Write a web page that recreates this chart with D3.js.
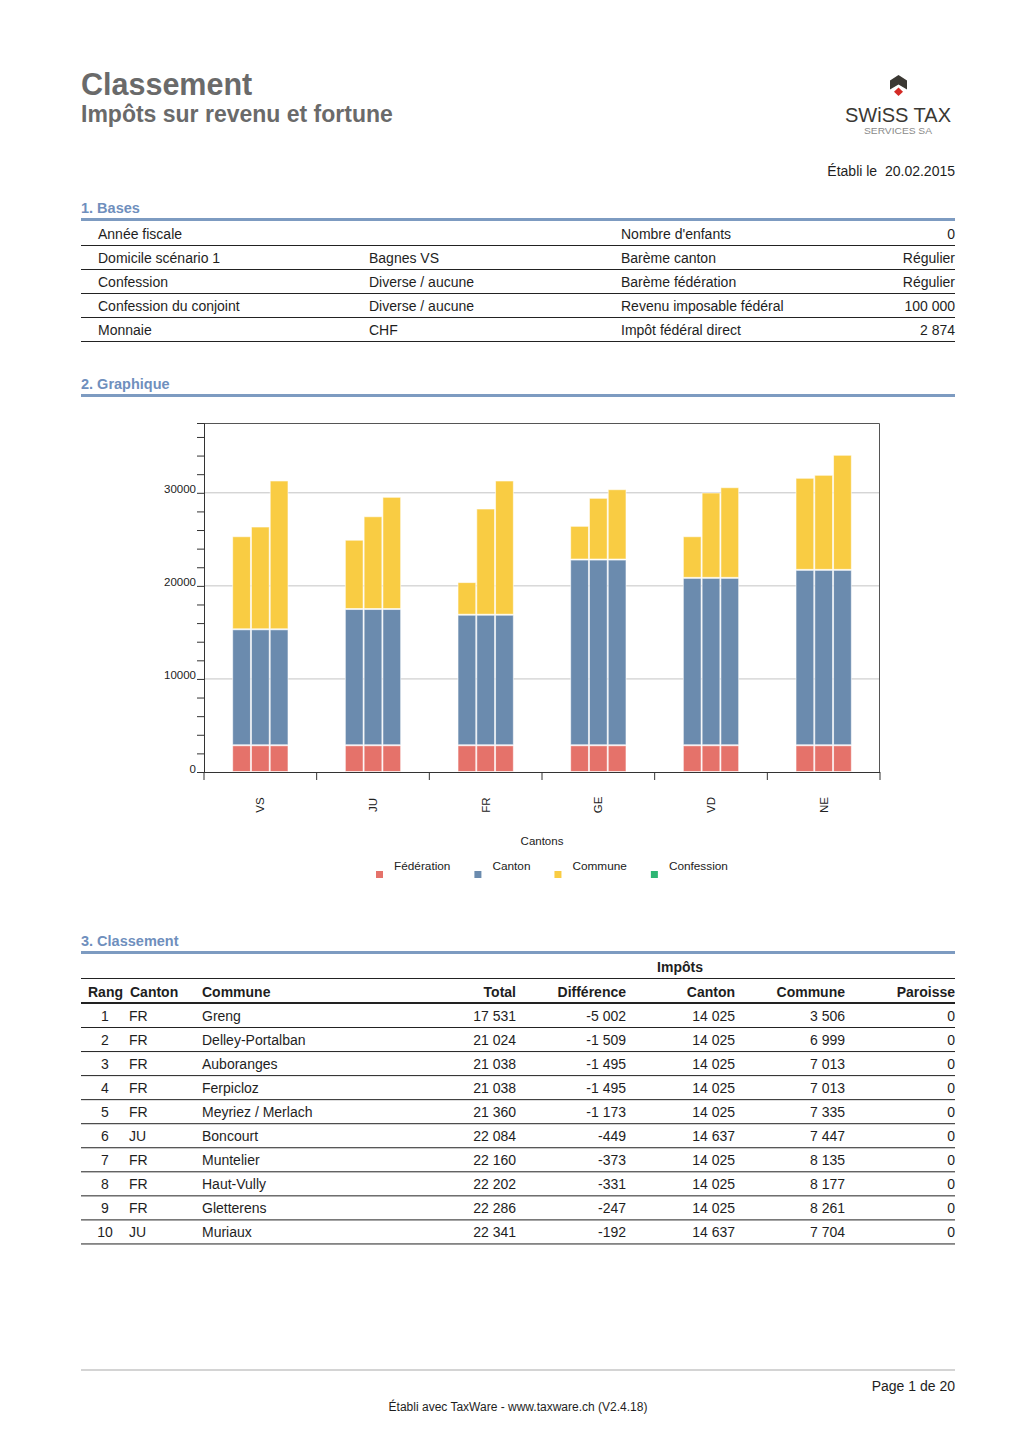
<!DOCTYPE html>
<html><head><meta charset="utf-8">
<script src="https://cdn.jsdelivr.net/npm/d3@7"></script>
<style>
html,body{margin:0;padding:0;background:#fff;}
svg text{font-family:"Liberation Sans",Arial,sans-serif;}
</style></head>
<body>
<svg id="page" width="1020" height="1442"></svg>
<script>
// ---------- DATA ----------
const cantons = ["VS","JU","FR","GE","VD","NE"];
const federationTax = [2874,2874,2874,2874,2874,2874];
const cantonTax = [12460,14637,14025,19954,17986,18846];
const communeLow  = [10000,7447,3506,3624,4473,9893];
const communeMid  = [11043,9970,11413,6634,9172,10215];
const communeHigh = [15990,12060,14424,7559,9742,12366];
const confessionTax = [0,0,0,0,0,0];
const seriesNames = ["Fédération","Canton","Commune","Confession"];
const seriesColors = ["#e5726a","#6b8bae","#f9cc43","#2db674"];
const yTicksMajor = [0,10000,20000,30000];

const basesLeft = [["Année fiscale",""],["Domicile scénario 1","Bagnes VS"],["Confession","Diverse / aucune"],["Confession du conjoint","Diverse / aucune"],["Monnaie","CHF"]];
const basesRight = [["Nombre d'enfants","0"],["Barème canton","Régulier"],["Barème fédération","Régulier"],["Revenu imposable fédéral","100 000"],["Impôt fédéral direct","2 874"]];

const rankHeaders = ["Rang","Canton","Commune","Total","Différence","Canton","Commune","Paroisse"];
const rankRows = [
 [1,"FR","Greng","17 531","-5 002","14 025","3 506","0"],
 [2,"FR","Delley-Portalban","21 024","-1 509","14 025","6 999","0"],
 [3,"FR","Auboranges","21 038","-1 495","14 025","7 013","0"],
 [4,"FR","Ferpicloz","21 038","-1 495","14 025","7 013","0"],
 [5,"FR","Meyriez / Merlach","21 360","-1 173","14 025","7 335","0"],
 [6,"JU","Boncourt","22 084","-449","14 637","7 447","0"],
 [7,"FR","Muntelier","22 160","-373","14 025","8 135","0"],
 [8,"FR","Haut-Vully","22 202","-331","14 025","8 177","0"],
 [9,"FR","Gletterens","22 286","-247","14 025","8 261","0"],
 [10,"JU","Muriaux","22 341","-192","14 637","7 704","0"]
];

// ---------- PAGE ----------
const svg = d3.select("#page");
const L = 81, R = 955;
const FS = 14;
const txtCol = "#1e1e1e", secCol = "#6f8fbd", ruleCol = "#7d9bc1";

svg.append("text").attr("x",L).attr("y",95).attr("font-size",30.5).attr("font-weight","bold").attr("fill","#6a6a6a").text("Classement");
svg.append("text").attr("x",L).attr("y",122).attr("font-size",23).attr("font-weight","bold").attr("fill","#6a6a6a").text("Impôts sur revenu et fortune");

// logo
const logo = svg.append("g");
logo.append("path").attr("d","M898.5,75 L907,80.5 L907,89.5 L898.5,84.5 L890,89.5 L890,80.5 Z").attr("fill","#3b3833");
logo.append("path").attr("d","M898.5,87.5 L903,91.8 L898.5,96 L894,91.8 Z").attr("fill","#d42a25");
logo.append("text").attr("x",845).attr("y",122).attr("font-family","Lato, 'Open Sans', sans-serif").attr("font-size",21).attr("fill","#3a3833").attr("textLength",106).attr("lengthAdjust","spacingAndGlyphs").text("SWiSS TAX");
logo.append("text").attr("x",864).attr("y",133.5).attr("font-family","Lato, 'Open Sans', sans-serif").attr("font-size",9.5).attr("fill","#8a8a8a").attr("textLength",68).attr("lengthAdjust","spacingAndGlyphs").text("SERVICES SA");

svg.append("text").attr("x",R).attr("y",175.5).attr("text-anchor","end").attr("font-size",FS).attr("fill",txtCol).attr("xml:space","preserve").text("Établi le  20.02.2015");

function section(title, y){
  svg.append("text").attr("x",L).attr("y",y).attr("font-size",14.5).attr("font-weight","bold").attr("fill",secCol).text(title);
  svg.append("rect").attr("x",L).attr("y",y+5.5).attr("width",R-L).attr("height",3).attr("fill",ruleCol);
}
section("1. Bases",212.5);
section("2. Graphique",388.5);
section("3. Classement",945.5);

// Bases table
basesLeft.forEach((r,i)=>{
  const y = 238.5 + i*24;
  svg.append("text").attr("x",98).attr("y",y).attr("font-size",FS).attr("fill",txtCol).text(r[0]);
  svg.append("text").attr("x",369).attr("y",y).attr("font-size",FS).attr("fill",txtCol).text(r[1]);
  svg.append("text").attr("x",621).attr("y",y).attr("font-size",FS).attr("fill",txtCol).text(basesRight[i][0]);
  svg.append("text").attr("x",R).attr("y",y).attr("text-anchor","end").attr("font-size",FS).attr("fill",txtCol).text(basesRight[i][1]);
  svg.append("rect").attr("x",L).attr("y",245+i*24).attr("width",R-L).attr("height",1).attr("fill","#222");
});

// ---------- CHART ----------
const chartL = 204, chartR = 880, chartT = 423, chartB = 772;
const chartFont = "'Open Sans', 'DejaVu Sans', sans-serif";
const y = d3.scaleLinear().domain([0,37500]).range([chartB,chartT]);
const x = d3.scaleBand().domain(cantons).range([chartL,chartR]).paddingInner(0.5).paddingOuter(0.25);
const xi = d3.scaleBand().domain([0,1,2]).range([0,x.bandwidth()]);
const ch = svg.append("g");

// gridlines
ch.selectAll("line.grid").data(yTicksMajor.slice(1)).join("line")
  .attr("x1",chartL).attr("x2",chartR).attr("y1",d=>y(d)).attr("y2",d=>y(d))
  .attr("stroke","#c4c4c4").attr("stroke-width",1);

// bars
const barData = [];
cantons.forEach((c,ci)=>{
  const communes = [communeLow[ci],communeMid[ci],communeHigh[ci]];
  communes.forEach((cm,bi)=>{
    const vals = [federationTax[ci], cantonTax[ci], cm, confessionTax[ci]];
    let base = 0;
    vals.forEach((v,si)=>{
      if(v>0) barData.push({c, bi, si, y0:base, y1:base+v});
      base += v;
    });
  });
});
ch.selectAll("rect.bar").data(barData).join("rect")
  .attr("x",d=>x(d.c)+xi(d.bi)+0.5)
  .attr("width",xi.bandwidth()-1)
  .attr("y",d=>y(d.y1)+0.5)
  .attr("height",d=>y(d.y0)-y(d.y1)-1)
  .attr("fill",d=>seriesColors[d.si])
  .attr("stroke","#ffffff").attr("stroke-opacity",0.6).attr("stroke-width",1);

// frame
ch.append("path").attr("d",`M${chartL},${chartT}.5 H${chartR-0.5} V${chartB}`).attr("fill","none").attr("stroke","#555").attr("stroke-width",1);

// y axis
const yAxis = d3.axisLeft(y).tickValues(d3.range(0,37000,2000)).tickSize(7)
  .tickFormat(d=> yTicksMajor.includes(d) ? String(d) : "");
const ya = ch.append("g").attr("transform",`translate(${chartL},0)`).call(yAxis);
ya.select(".domain").attr("stroke","#333");
ya.selectAll(".tick line").attr("stroke","#333");
ya.selectAll(".tick text").attr("x",-8).attr("dy","0").attr("font-family",chartFont).attr("font-size",11.5).attr("fill","#222");

// x axis
ch.append("line").attr("x1",chartL).attr("x2",chartR).attr("y1",chartB+0.5).attr("y2",chartB+0.5).attr("stroke","#333");
ch.selectAll("line.xt").data(d3.range(cantons.length+1)).join("line")
  .attr("x1",i=>chartL+i*x.step()).attr("x2",i=>chartL+i*x.step())
  .attr("y1",chartB).attr("y2",chartB+8).attr("stroke","#333");
ch.selectAll("text.xl").data(cantons).join("text")
  .attr("transform",d=>`translate(${x(d)+x.bandwidth()/2+4},805) rotate(-90)`)
  .attr("text-anchor","middle").attr("font-family",chartFont).attr("font-size",11.5).attr("fill","#222").text(d=>d);
ch.append("text").attr("x",(chartL+chartR)/2).attr("y",845).attr("text-anchor","middle")
  .attr("font-family",chartFont).attr("font-size",11.5).attr("fill","#222").text("Cantons");

// legend
let lx = 376;
seriesNames.forEach((n,i)=>{
  ch.append("rect").attr("x",lx).attr("y",871).attr("width",7).attr("height",7).attr("fill",seriesColors[i]);
  const t = ch.append("text").attr("x",lx+18).attr("y",869.5).attr("font-family",chartFont).attr("font-size",11.8).attr("fill","#222").text(n);
  lx += 18 + t.node().getComputedTextLength() + 24;
});

// ---------- RANKING TABLE ----------
svg.append("text").attr("x",680).attr("y",971.5).attr("text-anchor","middle").attr("font-size",FS).attr("font-weight","bold").attr("fill",txtCol).text("Impôts");
svg.append("rect").attr("x",L).attr("y",978).attr("width",R-L).attr("height",1).attr("fill","#222");
const colX = [105,129,202,516,626,735,845,955];
const colAnchor = ["middle","start","start","end","end","end","end","end"];
const hdrX = [88,130,202,516,626,735,845,955];
const hdrAnchor = ["start","start","start","end","end","end","end","end"];
rankHeaders.forEach((h,i)=>{
  svg.append("text").attr("x",hdrX[i]).attr("y",996.5).attr("text-anchor",hdrAnchor[i]).attr("font-size",FS).attr("font-weight","bold").attr("fill",txtCol).text(h);
});
svg.append("rect").attr("x",L).attr("y",1002).attr("width",R-L).attr("height",2).attr("fill","#222");
rankRows.forEach((r,ri)=>{
  const yy = 1020.5 + ri*24.05;
  r.forEach((v,ci)=>{
    svg.append("text").attr("x",colX[ci]).attr("y",yy).attr("text-anchor",colAnchor[ci]).attr("font-size",FS).attr("fill",txtCol).text(v);
  });
  svg.append("rect").attr("x",L).attr("y",1027+ri*24.05).attr("width",R-L).attr("height",1).attr("fill","#222");
});

// footer
svg.append("rect").attr("x",L).attr("y",1369.5).attr("width",R-L).attr("height",1).attr("fill","#aaa");
svg.append("text").attr("x",R).attr("y",1390.5).attr("text-anchor","end").attr("font-size",FS).attr("fill",txtCol).text("Page 1 de 20");
svg.append("text").attr("x",518).attr("y",1411).attr("text-anchor","middle").attr("font-size",12).attr("fill",txtCol).text("Établi avec TaxWare - www.taxware.ch (V2.4.18)");
</script>
</body></html>
